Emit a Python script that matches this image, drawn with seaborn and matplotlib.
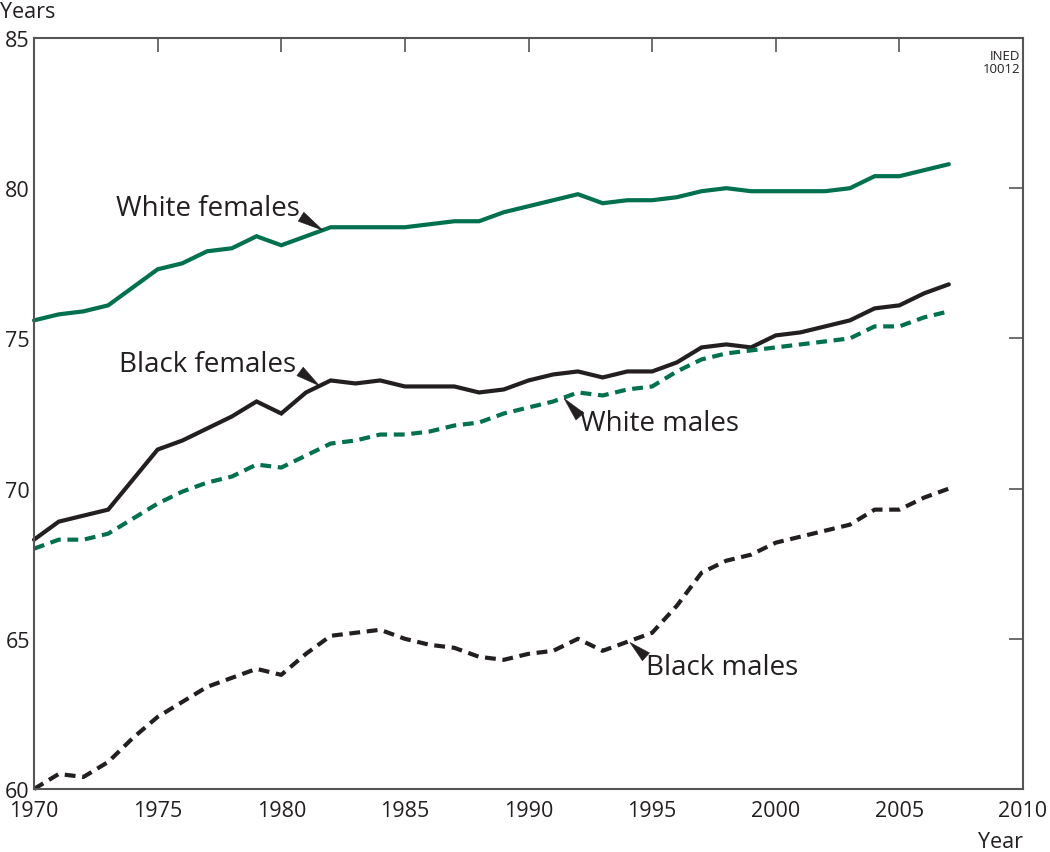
import numpy as np
import pandas as pd
import seaborn as sns
import matplotlib
matplotlib.use("Agg")
import matplotlib.pyplot as plt

years = list(range(1970, 2008))
white_females = [75.6, 75.8, 75.9, 76.1, 76.7, 77.3, 77.5, 77.9, 78.0, 78.4,
                 78.1, 78.4, 78.7, 78.7, 78.7, 78.7, 78.8, 78.9, 78.9, 79.2,
                 79.4, 79.6, 79.8, 79.5, 79.6, 79.6, 79.7, 79.9, 80.0, 79.9,
                 79.9, 79.9, 79.9, 80.0, 80.4, 80.4, 80.6, 80.8]
black_females = [68.3, 68.9, 69.1, 69.3, 70.3, 71.3, 71.6, 72.0, 72.4, 72.9,
                 72.5, 73.2, 73.6, 73.5, 73.6, 73.4, 73.4, 73.4, 73.2, 73.3,
                 73.6, 73.8, 73.9, 73.7, 73.9, 73.9, 74.2, 74.7, 74.8, 74.7,
                 75.1, 75.2, 75.4, 75.6, 76.0, 76.1, 76.5, 76.8]
white_males = [68.0, 68.3, 68.3, 68.5, 69.0, 69.5, 69.9, 70.2, 70.4, 70.8,
               70.7, 71.1, 71.5, 71.6, 71.8, 71.8, 71.9, 72.1, 72.2, 72.5,
               72.7, 72.9, 73.2, 73.1, 73.3, 73.4, 73.9, 74.3, 74.5, 74.6,
               74.7, 74.8, 74.9, 75.0, 75.4, 75.4, 75.7, 75.9]
black_males = [60.0, 60.5, 60.4, 60.9, 61.7, 62.4, 62.9, 63.4, 63.7, 64.0,
               63.8, 64.5, 65.1, 65.2, 65.3, 65.0, 64.8, 64.7, 64.4, 64.3,
               64.5, 64.6, 65.0, 64.6, 64.9, 65.2, 66.1, 67.2, 67.6, 67.8,
               68.2, 68.4, 68.6, 68.8, 69.3, 69.3, 69.7, 70.0]
series_names = ["White females", "Black females", "White males", "Black males"]
x_ticks = [1970, 1975, 1980, 1985, 1990, 1995, 2000, 2005, 2010]
y_ticks = [60, 65, 70, 75, 80, 85]

GREEN = "#00704f"
BLACK = "#231f20"
AXC = "#555555"

sns.set_theme(style="white")
plt.rcParams['font.family'] = ['Open Sans', 'DejaVu Sans']

fig = plt.figure(figsize=(10.5, 8.53), dpi=100)
ax = fig.add_axes([34/1050, 63/853, (1023-34)/1050, (790-39)/853])

styles = {
    "White females": dict(color=GREEN, dashes=None),
    "Black females": dict(color=BLACK, dashes=None),
    "White males": dict(color=GREEN, dashes=(2.6, 1.6)),
    "Black males": dict(color=BLACK, dashes=(2.6, 1.6)),
}
values = [white_females, black_females, white_males, black_males]
for name, vals in zip(series_names, values):
    df = pd.DataFrame({"Year": years, "Years": vals})
    st = styles[name]
    sns.lineplot(data=df, x="Year", y="Years", ax=ax, color=st["color"],
                 linewidth=3.0, legend=False)
    l = ax.get_lines()[-1]
    l.set_solid_joinstyle("miter")
    if st["dashes"] is not None:
        l.set_dashes(st["dashes"])
    l.set_clip_on(False)

ax.set_xlim(1970, 2010)
ax.set_ylim(60, 85)
ax.set_xticks(x_ticks)
ax.set_yticks(y_ticks)
ax.set_xlabel("")
ax.set_ylabel("")
for s in ax.spines.values():
    s.set_color(AXC)
    s.set_linewidth(1.5)
    s.set_visible(True)
ax.tick_params(axis="both", direction="in", length=10, width=1.2, color=AXC,
               labelsize=15.5, labelcolor="#231f20", top=True, right=True,
               labeltop=False, labelright=False)
ax.tick_params(axis="x", pad=8)
ax.tick_params(axis="y", pad=3)

fig.text(0.0, 1 - 12/853, "Years", fontsize=15.5, color="#231f20", ha="left", va="center")
fig.text(1023/1050, 1 - 843/853, "Year", fontsize=15.5, color="#231f20", ha="right", va="center")
ax.text(0.997, 0.985, "INED\n10012", transform=ax.transAxes, fontsize=9.5,
        color="#231f20", ha="right", va="top", linespacing=1.0)

arrow = dict(arrowstyle="wedge,tail_width=0.38", color=BLACK, lw=0.4,
             mutation_scale=20, shrinkA=0, shrinkB=0)
lab_fs = 20
labels = [
    # text, text pos, ha, arrow tail, arrow tip
    ("White females", (1980.76, 79.34), "right", (1980.80, 79.05), (1981.68, 78.60)),
    ("Black females", (1980.60, 74.15), "right", (1980.76, 73.90), (1981.55, 73.42)),
    ("White males", (1992.08, 72.18), "left", (1992.08, 72.40), (1991.44, 73.00)),
    ("Black males", (1994.75, 64.06), "left", (1994.75, 64.40), (1994.10, 64.88)),
]
for txt, tpos, ha, tail, tip in labels:
    ax.text(tpos[0], tpos[1], txt, fontsize=lab_fs, ha=ha, va="center", color="#231f20")
    ax.annotate("", xy=tip, xytext=tail, arrowprops=arrow)

fig.savefig("out.png", dpi=100)
